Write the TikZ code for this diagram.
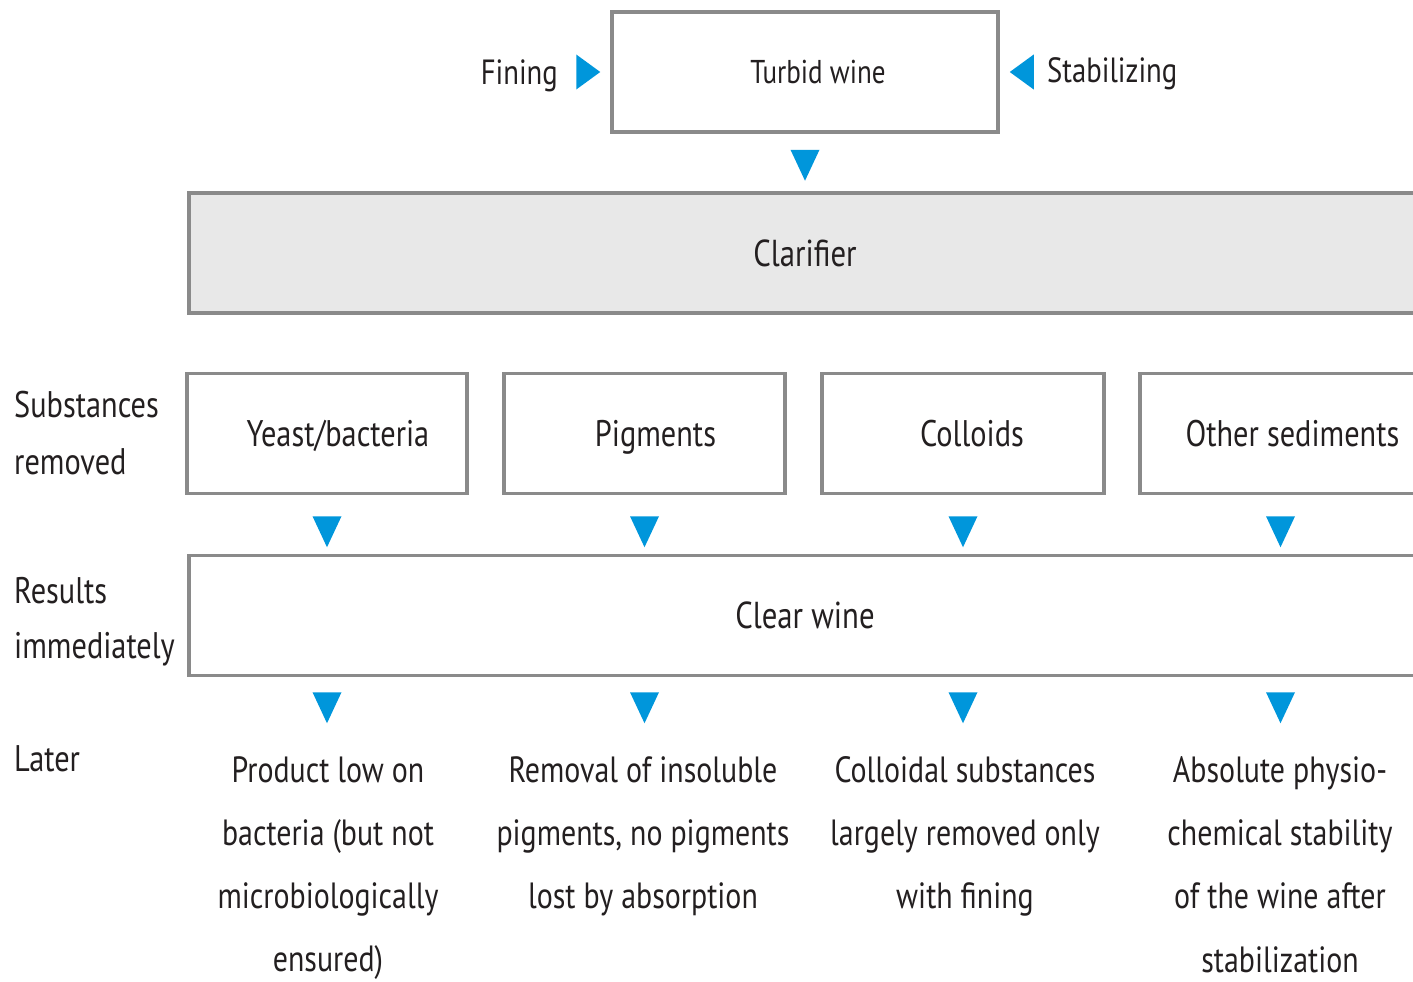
\documentclass[tikz,border=0pt]{standalone}
\usepackage{fontspec}
\setmainfont{PT Sans}[FakeStretch=0.82]
\usetikzlibrary{calc}
\definecolor{arrowblue}{RGB}{0,150,219}
\definecolor{boxline}{RGB}{138,138,138}
\definecolor{clarfill}{RGB}{232,232,232}
\definecolor{txt}{RGB}{35,31,32}
\begin{document}
\begin{tikzpicture}[x=1pt,y=-1pt,
  box/.style={draw=boxline, line width=3.5pt, minimum width=#1, minimum height=120pt, inner sep=0pt, text=txt},
  lbl/.style={text=txt, inner sep=0pt, text height=26pt, text depth=0pt, font=\fontsize{37}{44}\selectfont},
  toplbl/.style={lbl, text height=24.5pt, font=\fontsize{35}{42}\selectfont},
  side/.style={text=txt, inner sep=0pt, align=left, anchor=north west},
  result/.style={text=txt, inner sep=0pt, align=center, anchor=north, font=\fontsize{36.5}{63.3}\selectfont},
  downtri/.pic={\fill[arrowblue] (-14.5,0) -- (14.5,0) -- (0,31) -- cycle;},
  righttri/.pic={\fill[arrowblue] (0,0) -- (-24,-17.5) -- (-24,17.5) -- cycle;},
  lefttri/.pic={\fill[arrowblue] (0,0) -- (24,-17.5) -- (24,17.5) -- cycle;}
]
\useasboundingbox (0,0) rectangle (1413,982);
\clip (0,0) rectangle (1413,982);

% top
\node[box=386pt, label={[toplbl, text height=23pt, font=\fontsize{33}{40}\selectfont, xshift=13pt]center:Turbid wine}] (turbid) at (805,72) {};
\node[toplbl, anchor=east] (fining) at (558,72) {Fining};
\node[toplbl, anchor=west] (stab) at (1047,70) {Stabilizing};
\pic at ($(turbid.west)+(-10,0)$) {righttri};
\pic at ($(turbid.east)+(10,0)$) {lefttri};
\pic at ($(turbid.south)+(0,16)$) {downtri};

% clarifier
\node[box=1232pt, fill=clarfill, font=\fontsize{37.5}{45}\selectfont] (clar) at (805,253) {Clarifier};

% substances
\node[box=280pt, label={[lbl, xshift=11pt]center:Yeast/bacteria}] (yeast) at (327,433.5) {};
\node[box=281pt, label={[lbl, xshift=11pt]center:Pigments}] (pigm) at (644.5,433.5) {};
\node[box=282pt, label={[lbl, xshift=9pt]center:Colloids}] (coll) at (963,433.5) {};
\node[box=281pt, label={[lbl, xshift=12pt]center:Other sediments}] (other) at (1280.5,433.5) {};

\node[side, font=\fontsize{37}{57}\selectfont] (subst) at (14,391) {Substances\\removed};

\foreach \n in {yeast,pigm,coll,other}
  \pic at ($(\n.south)+(0,21)$) {downtri};

% clear wine
\node[box=1232pt, font=\fontsize{37.5}{45}\selectfont] (clear) at (805,615.5) {Clear wine};
\node[side, font=\fontsize{37}{55}\selectfont] (results) at (14,577) {Results\\immediately};

\foreach \n in {yeast,pigm,coll,other}
  \pic at ($(\n.center |- clear.south)+(0,15)$) {downtri};

\node[side, font=\fontsize{37}{55}\selectfont] (later) at (14,745) {Later};

% results
\node[result] (r1) at (328,756) {Product low on\\bacteria (but not\\microbiologically\\ensured)};
\node[result] (r2) at (643,756) {Removal of insoluble\\pigments, no pigments\\lost by absorption};
\node[result] (r3) at (965,756) {Colloidal substances\\largely removed only\\with fining};
\node[result] (r4) at (1280,756) {Absolute physio-\\chemical stability\\of the wine after\\stabilization};
\end{tikzpicture}
\end{document}
